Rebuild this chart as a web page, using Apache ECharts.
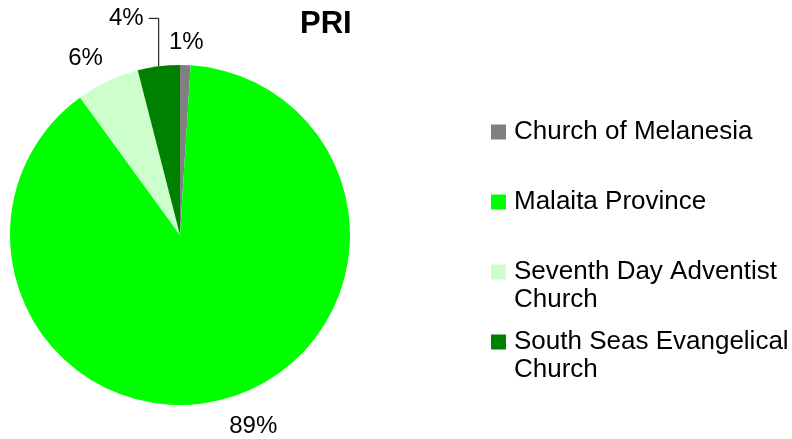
<!DOCTYPE html>
<html>
<head>
<meta charset="utf-8">
<script src="https://cdn.jsdelivr.net/npm/echarts@6/dist/echarts.min.js"></script>
<style>
  html, body { margin: 0; padding: 0; background: #fff; }
  #main { width: 792px; height: 439px; }
</style>
</head>
<body>
<div id="main"></div>
<script>
// data (percent shares)
var churches = ['Church of Melanesia', 'Malaita Province', 'Seventh Day Adventist Church', 'South Seas Evangelical Church'];
var shares = [1, 89, 6, 4];
var colors = ['#808080', '#00ff00', '#ccffcc', '#008000'];

// pie geometry
var cx = 180, cy = 235, R = 170;
// small manual nudges for the outside labels (excel "best fit" look)
var labelNudge = [[0, 0], [16, 6], [-10, -2], [0, 0]];
// legend rows: first row centre and row pitch
var legendTop = 132, legendPitch = 70, lineH = 28;

var total = shares.reduce(function (a, b) { return a + b; }, 0);

function midDir(i) {
  var before = 0;
  for (var k = 0; k < i; k++) before += shares[k];
  var a = (before + shares[i] / 2) / total * Math.PI * 2;
  return [Math.sin(a), -Math.cos(a)];
}

function isTwoLine(name) {
  return / Church$/.test(name);
}

// legend text is centred on the marker, so a wrapped name gets an empty
// first line to keep the marker level with the first real line
function legendText(name) {
  return isTwoLine(name) ? '\n' + name.replace(/ (Church)$/, '\n$1') : name;
}

var pieData = churches.map(function (name, i) {
  return {
    name: name,
    value: shares[i],
    itemStyle: { color: colors[i] },
    labelLine: { show: i === 3 }
  };
});

var chart = echarts.init(document.getElementById('main'));
var font = 'Liberation Sans, Arial, sans-serif';

// one legend per row so the rows keep an even pitch
var legends = churches.map(function (name, i) {
  var c = legendTop + i * legendPitch;
  return {
    orient: 'vertical',
    left: 491,
    top: isTwoLine(name) ? c - lineH * 1.5 : c - lineH / 2,
    itemWidth: 15,
    itemHeight: 15,
    icon: 'rect',
    padding: 0,
    data: [name],
    formatter: legendText,
    textStyle: {
      fontFamily: font,
      fontSize: 26,
      lineHeight: lineH,
      color: '#000',
      padding: [0, 0, 0, 3]
    }
  };
});

var option = {
  animation: false,
  title: {
    text: 'PRI',
    left: 300,
    top: 9,
    padding: 0,
    textStyle: { fontFamily: font, fontSize: 31, fontWeight: 'bold', color: '#000' }
  },
  legend: legends,
  series: [{
    type: 'pie',
    center: [cx, cy],
    radius: R,
    startAngle: 90,
    clockwise: true,
    avoidLabelOverlap: false,
    percentPrecision: 0,
    label: {
      show: true,
      position: 'outside',
      formatter: '{d}%',
      fontFamily: font,
      fontSize: 24,
      color: '#000'
    },
    labelLine: {
      lineStyle: { color: '#000', width: 1 }
    },
    labelLayout: function (p) {
      var i = p.dataIndex;
      var d = midDir(i);
      var w = p.labelRect.width, h = p.labelRect.height;
      if (i === 3) {
        // leader line: straight up from the rim, then a short step left
        var x0 = cx + R * d[0], y0 = cy + R * d[1];
        var y1 = y0 - 48, x2 = x0 - 10;
        return {
          x: x2 - 5,
          y: y1,
          align: 'right',
          verticalAlign: 'middle',
          labelLinePoints: [[x0, y0], [x0, y1], [x2, y1]]
        };
      }
      var g = 11;
      return {
        x: cx + (R + g) * d[0] + d[0] * w / 2 + labelNudge[i][0],
        y: cy + (R + g) * d[1] + d[1] * h / 2 + labelNudge[i][1],
        align: 'center',
        verticalAlign: 'middle'
      };
    },
    emphasis: { disabled: true },
    data: pieData
  }]
};

chart.setOption(option);
</script>
</body>
</html>
